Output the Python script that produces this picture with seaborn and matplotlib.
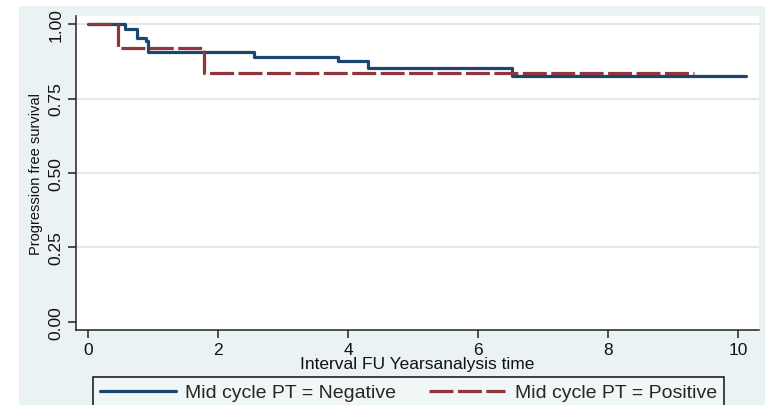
import pandas as pd
import matplotlib
matplotlib.use("Agg")
import matplotlib.pyplot as plt
import seaborn as sns
from matplotlib.patches import Rectangle

# Kaplan-Meier step estimates for the two groups
neg_time = [0.0, 0.57, 0.75, 0.89, 0.93, 2.55, 3.85, 4.30, 6.52, 10.12]
neg_surv = [1.0, 0.983, 0.952, 0.944, 0.905, 0.888, 0.875, 0.852, 0.827, 0.827]
pos_time = [0.0, 0.46, 1.78, 9.32]
pos_surv = [1.0, 0.919, 0.836, 0.836]
groups = ["Mid cycle PT = Negative", "Mid cycle PT = Positive"]
colors = ["#1A476F", "#90353B"]
y_ticks = [0.0, 0.25, 0.50, 0.75, 1.00]
x_ticks = [0, 2, 4, 6, 8, 10]

sns.set_theme(style="white")
plt.rcParams["font.family"] = ["Liberation Sans", "DejaVu Sans"]

df = pd.DataFrame({
    "time": neg_time + pos_time,
    "surv": neg_surv + pos_surv,
    "group": [groups[0]] * len(neg_time) + [groups[1]] * len(pos_time),
})

W, H = 769, 406
fig = plt.figure(figsize=(W / 100, H / 100), dpi=100, facecolor="white")
# graph region background, kept behind the axes
fig.patches.append(Rectangle((19 / W, 0), (765 - 19) / W, (H - 7) / H,
                             transform=fig.transFigure, facecolor="#EAF2F3",
                             edgecolor="none", zorder=-10))

ax = fig.add_axes([76 / W, (H - 331) / H, (759 - 76) / W, (331 - 17) / H])
ax.set_zorder(1)
ax.set_facecolor("white")

for yv in y_ticks[1:]:
    ax.axhline(yv, color="#E3E6E6", linewidth=1.3, zorder=0)

sns.lineplot(data=df, x="time", y="surv", hue="group", style="group",
             hue_order=groups, style_order=groups, palette=colors,
             dashes=["", (7.5, 1.4)], drawstyle="steps-post",
             estimator=None, sort=True, linewidth=2.3, ax=ax)

handles, labels = ax.get_legend_handles_labels()
ax.get_legend().remove()

ax.set_xlim(-0.185, 10.32)
ax.set_ylim(-0.027, 1.027)
ax.set_xticks(x_ticks)
ax.set_xticklabels([str(v) for v in x_ticks])
ax.set_yticks(y_ticks)
ax.set_yticklabels([f"{v:.2f}" for v in y_ticks], rotation=90, va="center")

for side in ["top", "right"]:
    ax.spines[side].set_visible(False)
for side in ["left", "bottom"]:
    ax.spines[side].set_color("#222222")
    ax.spines[side].set_linewidth(1.1)

ax.tick_params(axis="both", direction="out", length=6, width=1.1,
               color="#222222", labelsize=12.5, labelcolor="#111111", pad=3)
ax.tick_params(axis="x", bottom=True)
ax.tick_params(axis="y", left=True)

ax.set_xlabel("Interval FU Yearsanalysis time", fontsize=12.5,
              color="#111111", labelpad=-1)
ax.set_ylabel("Progression free survival", fontsize=10.5,
              color="#111111", labelpad=4)

leg = fig.legend(handles, labels, ncol=2, loc="upper left",
                 bbox_to_anchor=(93 / W, 1 - 378 / H),
                 bbox_transform=fig.transFigure, borderaxespad=0,
                 fontsize=14, handlelength=3.9, handletextpad=0.5,
                 columnspacing=1.7, borderpad=0.35, fancybox=False,
                 framealpha=1, facecolor="#F1F6F7", edgecolor="#111111")
leg.set_zorder(2)
leg.get_frame().set_linewidth(1.1)
for line in leg.get_lines():
    line.set_linewidth(2.3)

fig.savefig("out.png", dpi=100, facecolor="white")
